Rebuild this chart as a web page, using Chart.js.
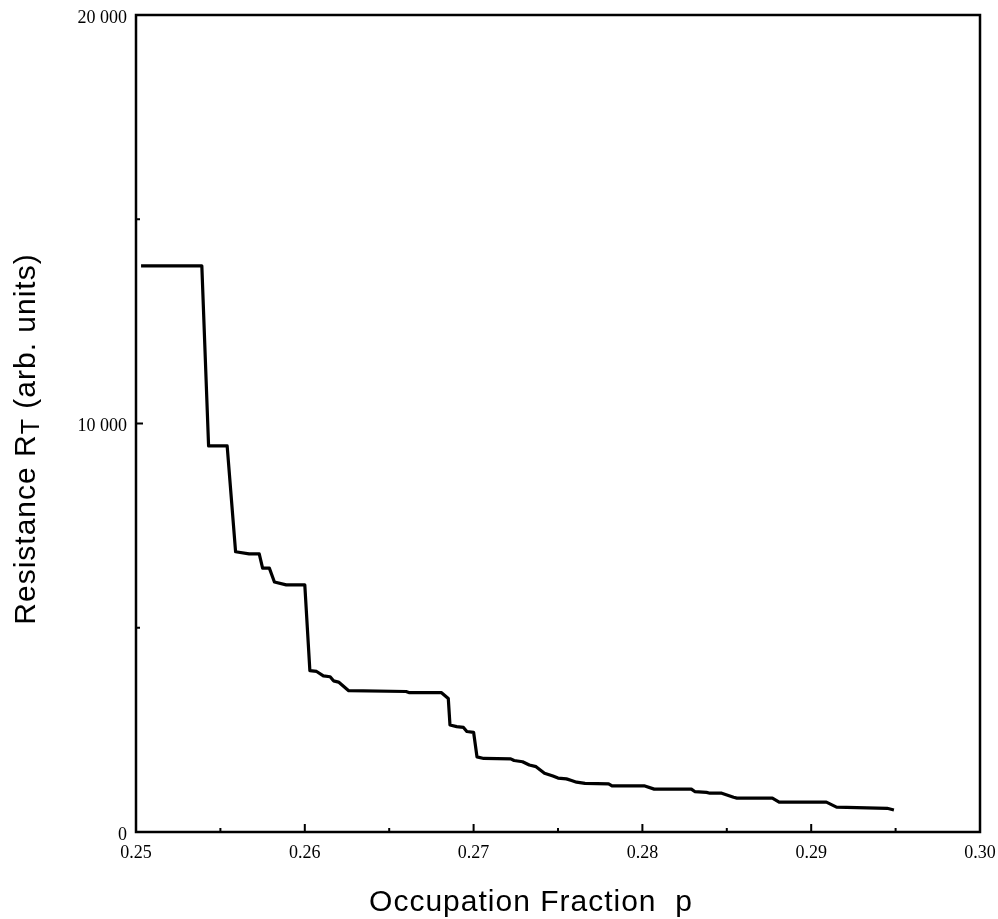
<!DOCTYPE html>
<html>
<head>
<meta charset="utf-8">
<script src="https://cdn.jsdelivr.net/npm/chart.js@4/dist/chart.umd.min.js"></script>
<style>
  body { margin: 0; background: #fff; }
  #chart { display: block; }
</style>
</head>
<body>
<canvas id="chart" width="998" height="919"></canvas>
<script>
'use strict';

// occupation fraction p (x) and resistance R_T (y)
const pValues = [0.2503, 0.2539, 0.2543, 0.2554, 0.2559, 0.2567, 0.2573, 0.2575, 0.2579, 0.2582,
  0.2589, 0.2600, 0.2603, 0.2607, 0.2611, 0.2615, 0.2617, 0.2620, 0.2626, 0.2660,
  0.2662, 0.2681, 0.2685, 0.2686, 0.2690, 0.2694, 0.2696, 0.2700, 0.2702, 0.2706,
  0.2722, 0.2724, 0.2729, 0.2733, 0.2737, 0.2742, 0.2747, 0.2750, 0.2755, 0.2758,
  0.2761, 0.2766, 0.2780, 0.2782, 0.2801, 0.2807, 0.2829, 0.2831, 0.2838, 0.2840,
  0.2847, 0.2854, 0.2856, 0.2877, 0.2881, 0.2909, 0.2915, 0.2945, 0.2949];
const resistance = [13860, 13860, 9450, 9450, 6860, 6810, 6810, 6460, 6460, 6120,
  6050, 6050, 3950, 3930, 3820, 3800, 3700, 3670, 3460, 3440,
  3410, 3410, 3270, 2620, 2580, 2560, 2460, 2440, 1840, 1800,
  1790, 1750, 1720, 1640, 1600, 1440, 1370, 1320, 1300, 1260,
  1220, 1190, 1180, 1130, 1130, 1050, 1050, 990, 970, 950,
  950, 850, 830, 830, 730, 730, 610, 580, 540];

// ticks
const xTicks = [0.25, 0.26, 0.27, 0.28, 0.29, 0.30];
const xMinorTicks = [0.255, 0.265, 0.275, 0.285, 0.295];
const yTicks = [0, 10000, 20000];
const yMinorTicks = [5000, 15000];

const xTitle = 'Occupation Fraction  p';
const yTitleParts = ['Resistance R', 'T', ' (arb. units)'];

const serif = '"Liberation Serif", "Times New Roman", serif';
const sans = '"Liberation Sans", Arial, sans-serif';

// frame, inward tick marks and the axis titles
const framePlugin = {
  id: 'frame',
  afterDraw(chart) {
    const ctx = chart.ctx;
    const area = chart.chartArea;
    const xs = chart.scales.x;
    const ys = chart.scales.y;
    ctx.save();
    ctx.strokeStyle = '#000';
    ctx.lineWidth = 2.5;
    ctx.strokeRect(area.left, area.top, area.right - area.left, area.bottom - area.top);

    ctx.lineWidth = 2;
    ctx.beginPath();
    xTicks.slice(1, -1).forEach(v => {
      let px = xs.getPixelForValue(v);
      ctx.moveTo(px, area.bottom);
      ctx.lineTo(px, area.bottom - 8);
    });
    xMinorTicks.forEach(v => {
      let px = xs.getPixelForValue(v);
      ctx.moveTo(px, area.bottom);
      ctx.lineTo(px, area.bottom - 4);
    });
    yTicks.slice(1, -1).forEach(v => {
      let py = ys.getPixelForValue(v);
      ctx.moveTo(area.left, py);
      ctx.lineTo(area.left + 7, py);
    });
    yMinorTicks.forEach(v => {
      let py = ys.getPixelForValue(v);
      ctx.moveTo(area.left, py);
      ctx.lineTo(area.left + 4, py);
    });
    ctx.stroke();

    // x title
    ctx.fillStyle = '#000';
    ctx.font = '30px ' + sans;
    ctx.letterSpacing = '1px';
    ctx.textAlign = 'center';
    ctx.textBaseline = 'alphabetic';
    ctx.fillText(xTitle, 531, 911);

    // y title with subscript T
    ctx.textAlign = 'left';
    let big = '30px ' + sans;
    let small = '25px ' + sans;
    ctx.font = big;
    let w0 = ctx.measureText(yTitleParts[0]).width;
    let w2 = ctx.measureText(yTitleParts[2]).width;
    ctx.font = small;
    let w1 = ctx.measureText(yTitleParts[1]).width;
    let total = w0 + w1 + w2;
    ctx.translate(35, 439);
    ctx.rotate(-Math.PI / 2);
    let x0 = -total / 2;
    ctx.font = big;
    ctx.fillText(yTitleParts[0], x0, 0);
    ctx.font = small;
    ctx.fillText(yTitleParts[1], x0 + w0, 4);
    ctx.font = big;
    ctx.fillText(yTitleParts[2], x0 + w0 + w1, 0);
    ctx.restore();
  }
};

let chartConfig = {
  type: 'line',
  data: {
    datasets: [{
      data: pValues.map((p, i) => ({ x: p, y: resistance[i] })),
      borderColor: '#000',
      borderWidth: 3.2,
      borderJoinStyle: 'round',
      pointRadius: 0,
      tension: 0,
      fill: false
    }]
  },
  options: {
    responsive: false,
    animation: false,
    layout: { padding: { top: 15, right: 18, left: 0, bottom: 0 } },
    plugins: {
      legend: { display: false },
      tooltip: { enabled: false }
    },
    scales: {
      x: {
        type: 'linear',
        min: 0.25,
        max: 0.30,
        afterBuildTicks: scale => { scale.ticks = xTicks.map(v => ({ value: v })); },
        afterFit: scale => {
          scale.height = 87;
          scale.paddingLeft = 0;
          scale.paddingRight = 0;
        },
        grid: { display: false, drawTicks: false },
        border: { display: false },
        ticks: {
          padding: 10,
          maxRotation: 0,
          color: '#000',
          font: { family: serif, size: 18 },
          callback: v => v.toFixed(2)
        }
      },
      y: {
        min: 0,
        max: 20000,
        afterBuildTicks: scale => { scale.ticks = yTicks.map(v => ({ value: v })); },
        afterFit: scale => {
          scale.width = 136;
          scale.paddingTop = 0;
          scale.paddingBottom = 0;
        },
        grid: { display: false, drawTicks: false },
        border: { display: false },
        ticks: {
          padding: 9,
          labelOffset: 3,
          color: '#000',
          font: { family: serif, size: 18 },
          callback: v => v >= 10000 ? String(v).replace(/(\d{3})$/, ' $1') : String(v)
        }
      }
    }
  },
  plugins: [framePlugin]
};

let myChart = new Chart(document.getElementById('chart'), chartConfig);
</script>
</body>
</html>
